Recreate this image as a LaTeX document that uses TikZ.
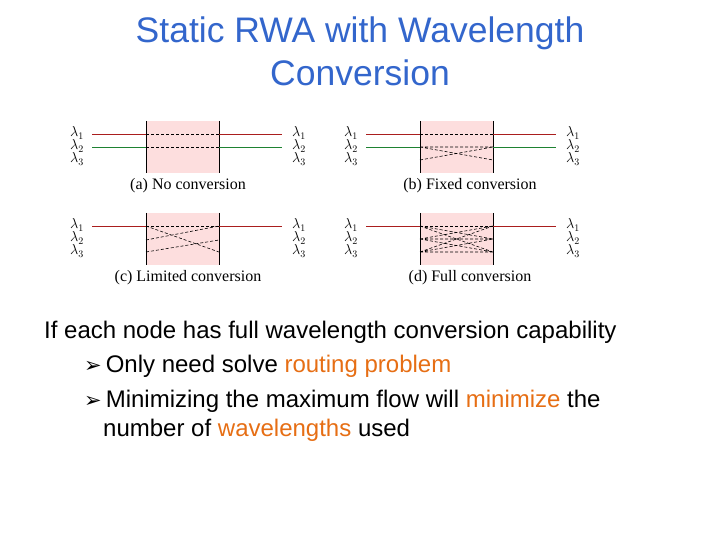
\documentclass[tikz,border=0pt]{standalone}
\usepackage{fontspec}
\setmainfont{Liberation Sans}
\newfontfamily\serif{Liberation Serif}
\definecolor{ttl}{RGB}{51,102,204}
\definecolor{org}{RGB}{230,110,20}
\definecolor{boxc}{RGB}{253,222,222}
\definecolor{redl}{RGB}{170,30,30}
\definecolor{grnl}{RGB}{30,130,50}
\begin{document}
\begin{tikzpicture}[x=1pt,y=-1pt,
  lab/.style={font=\fontsize{14}{14}\selectfont,inner sep=0},
  captxt/.style={font=\serif\fontsize{16}{16}\selectfont,inner sep=0},
  dl/.style={densely dashed,line width=0.6pt},
  body/.style={font=\fontsize{24}{28}\selectfont,anchor=west,inner sep=0}]
\useasboundingbox (0,0) rectangle (720,540);
\node[font=\fontsize{35.5}{43}\selectfont,text=ttl,align=center] (title) at (360,51) {Static RWA with Wavelength\\Conversion};
\foreach \px/\py/\nm in {0/0/a,274/0/b,0/92/c,274/92/d}{
  \begin{scope}[shift={(\px,\py)}]
  \fill[boxc] (146,121) rectangle (219,173);
  \draw (146,121) -- (146,173) (219,121) -- (219,173);
  \node[lab] (\nm l1) at (77,133) {$\lambda_1$};
  \node[lab] (\nm l2) at (77,146) {$\lambda_2$};
  \node[lab] (\nm l3) at (77,159) {$\lambda_3$};
  \node[lab] (\nm r1) at (299,133) {$\lambda_1$};
  \node[lab] (\nm r2) at (299,146) {$\lambda_2$};
  \node[lab] (\nm r3) at (299,159) {$\lambda_3$};
  \draw[redl,line width=0.7pt] (92,134) -- (146,134) (219,134) -- (282,134);
  \draw[dl] (146,134) -- (219,134);
  \end{scope}}
\draw[grnl,line width=0.7pt] (92,147) -- (146,147) (219,147) -- (282,147);
\draw[grnl,line width=0.7pt] (366,147) -- (420,147) (493,147) -- (556,147);
\draw[dl] (146,147) -- (219,147);
\draw[dl] (420,147) -- (493,147) (420,147) -- (493,160) (420,160) -- (493,147);
\draw[dl] (146,240) -- (219,226) (146,226) -- (219,252) (146,252) -- (219,240);
\draw[dl] (420,226) -- (493,239) (420,226) -- (493,252)
  (420,239) -- (493,226) (420,239) -- (493,239) (420,239) -- (493,252)
  (420,252) -- (493,226) (420,252) -- (493,239) (420,252) -- (493,252);
\node[captxt] (ca) at (188,186) {(a) No conversion};
\node[captxt] (cb) at (470,186) {(b) Fixed conversion};
\node[captxt] (cc) at (188,278) {(c) Limited conversion};
\node[captxt] (cd) at (470,278) {(d) Full conversion};
\node[body] (t1) at (44,332) {If each node has full wavelength conversion capability};
\node[body] (t2) at (84,366) {{\fontspec{DejaVu Sans}\fontsize{21}{21}\selectfont ➢}\,Only need solve \textcolor{org}{routing problem}};
\node[body] (t3) at (84,401) {{\fontspec{DejaVu Sans}\fontsize{21}{21}\selectfont ➢}\,Minimizing the maximum flow will \textcolor{org}{minimize} the};
\node[body] (t4) at (103,430) {number of \textcolor{org}{wavelengths} used};
\end{tikzpicture}
\end{document}
